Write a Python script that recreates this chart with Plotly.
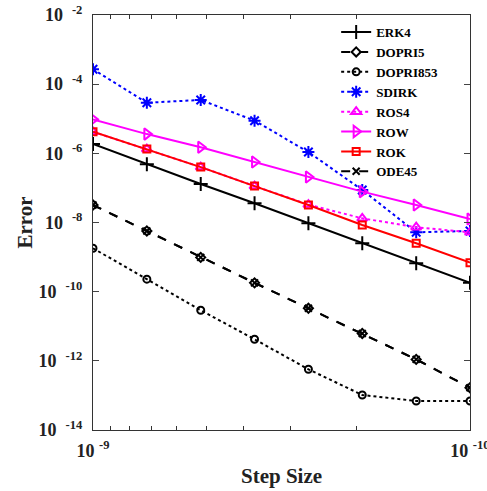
import plotly.graph_objects as go

step_size = [1e-9, 7.197e-10, 5.179e-10, 3.728e-10, 2.683e-10, 1.931e-10, 1.389e-10, 1e-10]

erk4 = [1.86e-6, 4.8e-7, 1.3e-7, 3.6e-8, 9.5e-9, 2.5e-9, 6.6e-10, 1.8e-10]
dopri5 = [3.2e-8, 5.7e-9, 9.8e-10, 1.8e-10, 3.3e-11, 6.2e-12, 1.1e-12, 1.67e-13]
dopri853 = [1.8e-9, 2.3e-10, 2.9e-11, 4.2e-12, 5.7e-13, 1.03e-13, 6.9e-14, 6.9e-14]
sdirk = [2.7e-4, 2.9e-5, 3.5e-5, 8.8e-6, 1.09e-6, 8.7e-8, 5.2e-9, 5.7e-9]
ros4 = [4.2e-6, 1.33e-6, 4.0e-7, 1.13e-7, 3.3e-8, 1.32e-8, 7.3e-9, 5.2e-9]
row = [9.6e-6, 3.6e-6, 1.5e-6, 5.6e-7, 2.07e-7, 7.8e-8, 3.2e-8, 1.26e-8]
rok = [4.2e-6, 1.33e-6, 4.0e-7, 1.13e-7, 3.2e-8, 8.5e-9, 2.5e-9, 6.9e-10]
ode45 = [3.2e-8, 5.7e-9, 9.8e-10, 1.8e-10, 3.3e-11, 6.2e-12, 1.1e-12, 1.67e-13]

series = [
    ("ERK4", erk4, "black", "solid", "cross-thin-open", 10),
    ("DOPRI5", dopri5, "black", "dash", "diamond-open", 7),
    ("DOPRI853", dopri853, "black", "dot", "circle-open", 7),
    ("SDIRK", sdirk, "blue", "dot", "asterisk-open", 10),
    ("ROS4", ros4, "magenta", "dot", "triangle-up-open", 9),
    ("ROW", row, "magenta", "solid", "triangle-right-open", 10),
    ("ROK", rok, "red", "solid", "square-open", 7),
    ("ODE45", ode45, "black", "dash", "x-thin-open", 7),
]

x_major = [1e-9, 1e-10]
x_major_text = ["<b>10&nbsp;<sup>-9</sup></b>", "<b>10&nbsp;<sup>-10</sup></b>"]
x_minor = [9e-10, 8e-10, 7e-10, 6e-10, 5e-10, 4e-10, 3e-10, 2e-10]
y_ticks = [1e-2, 1e-4, 1e-6, 1e-8, 1e-10, 1e-12, 1e-14]
y_text = ["<b>10&nbsp;&nbsp;<sup>-2</sup></b>", "<b>10&nbsp;&nbsp;<sup>-4</sup></b>",
          "<b>10&nbsp;&nbsp;<sup>-6</sup></b>", "<b>10&nbsp;&nbsp;<sup>-8</sup></b>",
          "<b>10&nbsp;&nbsp;<sup>-10</sup></b>", "<b>10&nbsp;&nbsp;<sup>-12</sup></b>",
          "<b>10&nbsp;&nbsp;<sup>-14</sup></b>"]

fig = go.Figure()
for name, vals, color, dash, sym, size in series:
    fig.add_trace(go.Scatter(
        x=step_size, y=vals, name=name, mode="lines+markers",
        line=dict(color=color, dash=dash, width=2),
        marker=dict(symbol=sym, size=size, color=color, line=dict(color=color, width=2)),
    ))

font = "Liberation Serif"
fig.update_layout(
    width=487, height=491,
    margin=dict(l=93, r=17, t=15, b=61),
    paper_bgcolor="white", plot_bgcolor="white",
    font=dict(family=font, color="#222", size=16),
    showlegend=True,
    legend=dict(x=0.645, y=0.995, xanchor="left", yanchor="top",
                bgcolor="rgba(0,0,0,0)", font=dict(family=font, size=13, color="black", weight="bold"),
                itemwidth=30, tracegroupgap=0),
)
fig.update_xaxes(
    type="log", range=[-9, -10], automargin=False, ticklabeloverflow="allow",
    tickvals=x_major, ticktext=x_major_text, ticks="inside", ticklen=6,
    showline=True, linecolor="#333", linewidth=1, mirror="ticks", showgrid=False,
    tickfont=dict(family=font, size=18, color="#222"), ticklabelstandoff=4,
    minor=dict(tickvals=x_minor, ticks="inside", ticklen=4, tickcolor="#333", showgrid=False),
    title=dict(text="<b>Step Size</b>", font=dict(family=font, size=21, color="#222"), standoff=8),
)
fig.update_yaxes(
    type="log", range=[-14, -2], automargin=False, ticklabeloverflow="allow",
    tickvals=y_ticks, ticktext=y_text, ticks="inside", ticklen=6,
    showline=True, linecolor="#333", linewidth=1, mirror="ticks", showgrid=False,
    tickfont=dict(family=font, size=18, color="#222"), ticklabelstandoff=6,
    title=dict(text="<b>Error</b>", font=dict(family=font, size=21, color="#222"), standoff=0),
)
fig.write_html("out.html", config={"displayModeBar": False},
               post_script="document.body.style.margin='0';")
